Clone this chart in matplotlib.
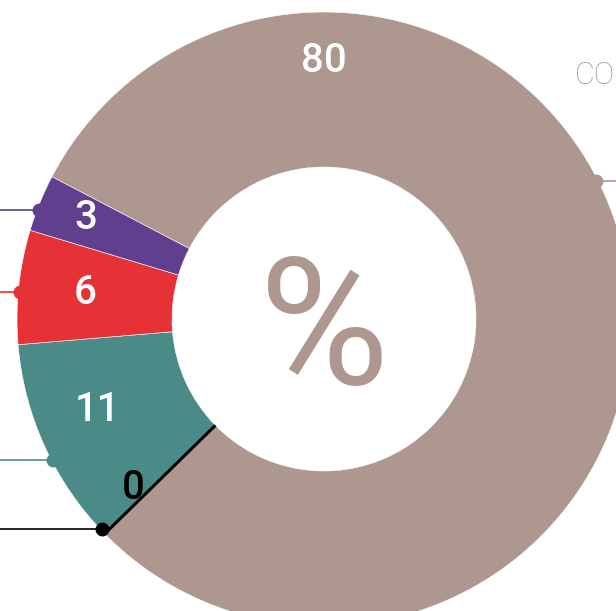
import matplotlib.pyplot as plt
import numpy as np

# slice data, clockwise from the top-left edge of the big slice
labels = ["CO", "", "", "", ""]
values = [80, 0, 11, 6, 3]
colors = ["#ad978f", "#000000", "#4a8b87", "#e63237", "#603f8f"]
value_colors = ["white", "black", "white", "white", "white"]
center_text = "%"

plt.rcParams['font.family'] = ['Roboto', 'DejaVu Sans']

W, H = 616, 611
fig = plt.figure(figsize=(W / 100, H / 100), dpi=100)
ax = fig.add_axes([0, 0, 1, 1])

cx, cy = 324, H - 319
r_out, r_in = 307, 152
start = 152.4

ax.pie(values, colors=colors, startangle=start, counterclock=False,
       center=(cx, cy), radius=r_out, frame=True,
       wedgeprops=dict(width=r_out - r_in, edgecolor='white', linewidth=0.4))
ax.set_xlim(0, W)
ax.set_ylim(0, H)
ax.set_aspect('equal')
ax.axis('off')

total = sum(values)
angles = []
a = start
for v in values:
    span = 360 * v / total
    angles.append((a, a - span))
    a -= span

# zero slice drawn as a black line
for (a0, a1), v, c in zip(angles, values, colors):
    if v == 0:
        t = np.deg2rad(a0)
        ax.plot([cx + r_in * np.cos(t), cx + r_out * np.cos(t)],
                [cy + r_in * np.sin(t), cy + r_out * np.sin(t)],
                color=c, lw=2.2, solid_capstyle='butt')

# value labels inside the ring (radius, angle) per slice
label_pos = [(258, 90), (255, 221.5), (244, 202), (240, 173.8), (259, 157)]
for i, v in enumerate(values):
    r, ang = label_pos[i]
    t = np.deg2rad(ang)
    ax.text(cx + r * np.cos(t), cy + r * np.sin(t), str(v),
            color=value_colors[i], fontsize=29, fontweight='medium',
            ha='center', va='center')

# connector dots and lines
dot_angles = [27, 223.4, 207.5, 175, 159]
for i, ang in enumerate(dot_angles):
    t = np.deg2rad(ang)
    x = cx + (r_out - 2) * np.cos(t)
    y = cy + (r_out - 2) * np.sin(t)
    x_end = W if np.cos(t) > 0 else 0
    ax.plot([x, x_end], [y, y], color=colors[i], lw=1.2)
    ax.plot(x, y, 'o', color=colors[i], ms=9)

ax.text(575, H - 75, labels[0], color=colors[0], fontsize=22,
        fontweight='light', ha='left', va='center')

ax.text(cx, cy - 16, center_text, color=colors[0], fontsize=128,
        ha='center', va='center')

fig.savefig("out.png", dpi=100)
